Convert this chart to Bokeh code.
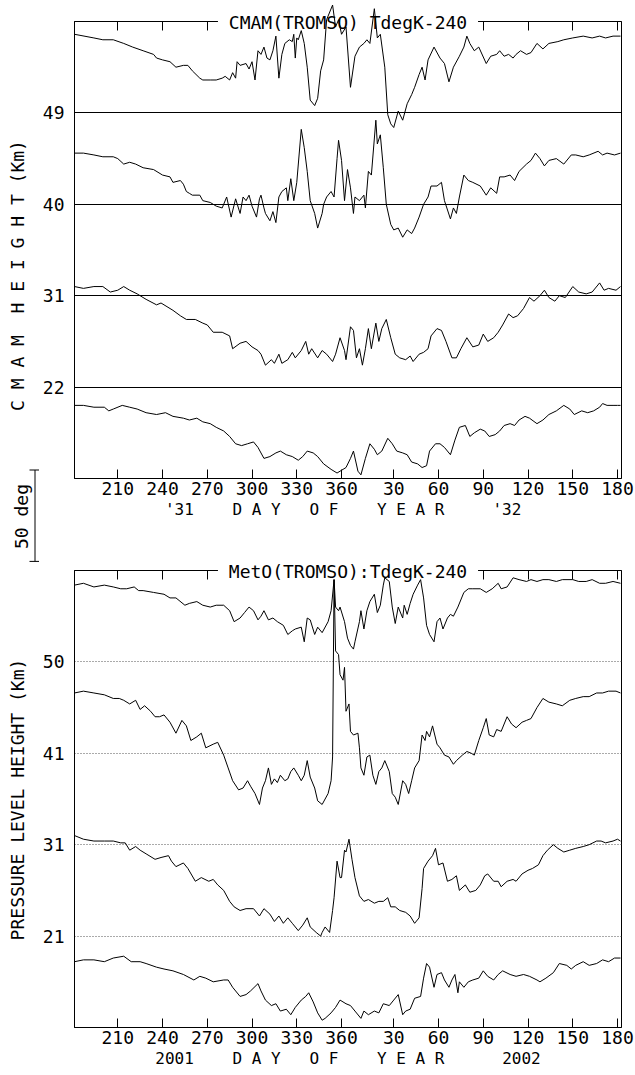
import math
import numpy as np
from bokeh.plotting import figure
from bokeh.models import Range1d, FixedTicker, LinearAxis
from bokeh.layouts import column, row
from bokeh.core.properties import value
from bokeh.embed import file_html
from bokeh.resources import INLINE

FONT = "DejaVu Sans Mono"
NB = "\u00a0"

# ---------------- data (days counted continuously from day 1 of first year; 395 = day 30 of next year)
x_ticks = [210, 240, 270, 300, 330, 360, 395, 425, 455, 485, 515, 545]
x_tick_labels = ["210", "240", "270", "300", "330", "360", "30", "60", "90", "120", "150", "180"]

cmam_levels = ["22", "31", "40", "49"]
meto_levels = ["21", "31", "41", "50"]

# CMAM, T-240 (K) at each level
cmam49_day = [181,194,200,207,214,220,227,234,236,240,245,249,254,257,260,265,267,272,276,280,282,285,287,289,290,292,296,298,300,302,304,306,308,310,312,314,316,318,320,322,325,327,328,329,330,331,333,335,337,339,342,344,346,348,350,354,356,358,360,363,366,369,372,375,377,379,382,384,386,389,391,393,395,398,401,404,407,409,412,414,416,418,422,426,429,432,435,439,442,444,446,449,452,457,460,464,466,469,472,475,477,480,484,487,491,495,499,505,509,515,522,528,533,537,542,547]
cmam49_t = [43,41,40,40,38,36,34,32,30,29,28,25,26,26,23,19,18,18,18,19,20,18,22,19,28,26,27,24,28,18,34,32,36,30,29,34,42,19,32,38,40,39,43,30,41,40,45,38,25,7,4,8,23,29,51,59,47,51,43,47,14,31,36,38,40,38,57,41,43,25,-1,-6,-8,1,-4,5,10,14,21,25,18,29,36,30,27,17,25,31,36,42,38,34,36,27,31,32,34,31,32,30,32,34,32,33,38,35,38,39,40,41,42,41,42,41,42,42]

cmam40_day = [181,187,194,200,207,210,214,218,222,227,234,240,245,247,252,254,256,258,260,265,267,272,276,280,283,286,289,292,294,296,298,300,303,305,306,308,309,312,314,316,318,320,323,324,326,328,330,333,335,337,339,342,344,347,348,350,353,355,357,358,360,362,364,366,368,369,372,375,376,378,380,383,384,386,388,390,393,395,398,401,404,407,409,412,415,418,420,424,427,429,433,435,437,439,442,445,448,453,457,460,464,466,469,473,476,479,484,487,490,493,496,499,504,509,514,517,522,526,532,535,538,543,547]
cmam40_t = [28,28,27,26,26,25,22,23,22,20,19,16,15,12,13,11,7,6,5,5,2,1,-1,-2,4,-7,3,-5,4,2,5,-1,-7,3,5,-2,-5,-9,-4,-10,4,7,9,2,14,2,12,41,31,18,2,-5,-13,-5,0,4,7,4,25,35,24,2,19,9,-5,4,2,5,-2,18,16,46,33,38,20,0,-11,-14,-13,-18,-14,-16,-13,-7,0,4,10,10,12,2,-8,-2,-5,4,16,13,12,10,5,9,6,15,15,16,13,18,22,24,28,25,21,24,25,22,27,27,26,27,29,27,28,27,28]

cmam31_day = [181,187,194,200,205,210,214,218,223,229,236,239,243,247,252,256,262,267,270,274,280,285,287,292,296,300,304,306,309,313,315,318,320,324,327,329,333,336,338,340,344,347,350,354,356,359,362,363,366,368,370,372,374,376,378,380,383,385,387,390,393,396,399,403,406,408,412,415,418,420,424,427,430,434,437,440,444,448,452,455,458,462,465,468,472,475,478,482,486,489,493,496,499,503,506,510,515,519,524,528,533,536,539,544,547]
cmam31_t = [5,4,5,5,2,3,5,3,1,-2,-5,-4,-6,-8,-11,-13,-13,-15,-16,-20,-20,-22,-29,-26,-25,-28,-30,-32,-38,-35,-37,-32,-37,-35,-31,-34,-30,-25,-32,-29,-34,-30,-32,-36,-32,-23,-30,-35,-17,-19,-34,-29,-38,-29,-18,-29,-15,-25,-18,-13,-23,-32,-34,-35,-33,-36,-32,-31,-29,-22,-18,-19,-25,-34,-34,-29,-23,-28,-27,-21,-25,-23,-20,-16,-10,-12,-11,-7,-1,-3,0,3,-1,-3,0,-1,5,2,1,2,7,3,4,3,5]

cmam22_day = [181,187,194,201,204,207,213,218,223,229,236,242,247,254,258,263,267,272,276,281,285,289,293,297,301,304,308,312,316,319,323,327,331,334,337,341,344,348,353,357,359,363,366,368,371,373,376,379,382,384,387,391,394,397,401,404,407,411,414,417,419,423,426,429,433,436,439,443,446,449,453,456,459,463,466,469,473,476,479,483,486,491,495,499,504,509,513,516,521,525,529,533,535,538,542,545,547]
cmam22_t = [-10,-10,-11,-11,-13,-12,-10,-11,-12,-14,-15,-14,-16,-17,-18,-17,-19,-20,-22,-24,-27,-31,-32,-31,-30,-33,-39,-38,-36,-35,-37,-38,-40,-38,-35,-36,-38,-42,-45,-47,-46,-44,-39,-35,-46,-48,-39,-31,-34,-37,-35,-28,-31,-35,-36,-37,-41,-42,-44,-43,-35,-31,-31,-33,-37,-29,-22,-21,-27,-25,-23,-24,-27,-26,-24,-21,-20,-21,-18,-16,-17,-20,-18,-15,-13,-10,-12,-15,-13,-14,-13,-11,-9,-10,-10,-10,-10]

# MetO, T-240 (K) at each level
meto50_day = [181,187,194,201,207,212,216,221,224,227,234,241,245,249,255,258,263,267,272,276,281,285,288,292,295,298,301,304,306,308,311,314,317,321,324,327,329,333,335,337,339,342,344,347,351,353,355,356,358,359,362,364,366,368,369,372,373,375,377,379,382,384,386,388,389,392,394,396,398,401,402,404,406,408,411,413,415,417,419,422,424,426,428,431,433,435,438,442,445,448,453,457,461,465,467,471,475,479,484,487,491,495,499,504,508,515,519,524,528,533,537,542,547]
meto50_t = [42,43,41,42,41,40,40,41,39,39,38,37,35,35,31,32,33,31,30,31,31,28,22,24,27,30,28,23,25,28,23,24,22,20,15,17,18,19,11,24,23,15,19,16,22,28,45,30,28,30,22,13,9,7,11,22,28,18,28,33,37,27,31,42,46,44,30,21,30,24,31,26,32,37,42,45,35,20,15,11,22,24,18,24,26,25,30,38,40,40,40,38,40,43,40,41,46,45,44,45,44,45,45,44,45,45,44,44,45,43,43,44,43]

meto41_day = [181,187,194,201,207,211,214,218,222,225,228,232,235,238,241,245,249,253,256,259,263,266,269,274,277,281,284,287,291,294,297,299,302,305,307,309,311,313,315,317,319,322,324,326,328,331,333,335,337,339,342,344,347,351,353,354,355,356,358,359,361,362,363,365,366,368,371,372,373,375,377,379,381,383,385,387,389,392,394,396,398,401,403,405,407,409,412,414,416,417,419,421,424,426,429,432,435,437,441,444,447,449,452,455,457,459,462,464,467,471,474,477,481,484,487,491,495,499,504,508,513,517,522,526,531,535,539,544,547]
meto41_t = [33,34,33,32,30,30,29,27,29,24,26,23,20,20,21,17,11,18,15,7,9,11,3,5,6,-1,-8,-15,-20,-19,-15,-18,-22,-28,-19,-15,-8,-17,-14,-16,-12,-15,-14,-10,-8,-12,-15,-12,-4,-13,-19,-26,-28,-22,-15,-2,95,56,54,43,40,47,23,27,12,10,11,3,-8,-12,-2,-1,-12,-17,-10,-8,-4,-10,-22,-24,-28,-15,-17,-22,-15,-8,-4,10,7,12,9,15,5,3,-1,-2,-6,-4,-1,1,0,-1,7,14,19,10,9,13,12,20,16,14,17,18,19,25,30,28,27,26,29,30,31,31,33,33,34,34,33]

meto31_day = [181,187,194,201,207,212,215,218,222,225,229,235,239,244,246,249,254,257,262,266,271,274,277,281,285,288,292,296,301,305,308,312,315,318,321,324,327,331,334,337,339,343,346,347,349,352,354,355,357,359,360,362,363,365,367,369,372,375,378,382,385,388,391,393,396,399,403,406,409,412,414,415,418,421,423,425,428,431,434,437,439,443,446,450,453,456,458,462,465,467,471,475,477,481,485,488,492,495,498,502,505,509,513,517,522,526,531,534,537,542,545,547]
meto31_t = [5,3,2,2,2,1,1,-3,-1,-3,-5,-8,-7,-6,-9,-12,-10,-13,-20,-18,-20,-19,-22,-25,-31,-34,-36,-35,-35,-39,-35,-38,-42,-39,-43,-40,-43,-47,-44,-40,-45,-48,-50,-48,-45,-48,-36,-29,-9,-18,-18,-3,-4,3,-8,-18,-28,-31,-30,-32,-31,-31,-29,-34,-34,-36,-37,-39,-43,-40,-24,-13,-9,-6,-2,-11,-10,-20,-19,-17,-25,-22,-26,-25,-22,-17,-16,-20,-20,-23,-20,-19,-20,-16,-14,-13,-11,-6,-3,0,-2,-4,-3,-2,-1,0,2,2,1,2,3,2]

meto21_day = [181,187,194,201,207,214,219,225,229,236,241,247,254,261,265,269,274,281,284,287,292,296,299,304,306,309,313,316,319,323,326,329,333,336,338,341,344,347,349,353,356,359,363,366,369,373,375,378,382,385,388,392,395,398,401,403,406,409,413,415,417,419,422,424,427,429,432,434,436,438,439,442,445,448,452,455,458,462,465,468,473,477,482,486,491,493,497,502,506,511,514,517,522,526,531,535,539,543,547]
meto21_t = [-14,-13,-13,-14,-12,-11,-14,-14,-15,-17,-18,-19,-21,-24,-22,-23,-25,-24,-24,-28,-33,-32,-30,-26,-30,-35,-38,-37,-41,-40,-43,-39,-35,-33,-31,-36,-42,-46,-45,-42,-39,-35,-37,-38,-41,-45,-41,-43,-41,-42,-37,-38,-35,-32,-43,-41,-40,-34,-33,-23,-15,-17,-28,-21,-20,-24,-28,-24,-21,-31,-25,-28,-25,-24,-23,-19,-22,-24,-21,-19,-21,-22,-21,-22,-24,-25,-23,-20,-15,-16,-18,-16,-14,-16,-15,-13,-14,-12,-12]

DEG_PER_BAND = 50.0  # the "50 deg" scale bar equals the spacing between levels

STRIP_W = 39
FRAME_H = 457


def make_panel(height, top_border, bottom_border, series, level_labels, dotted, title, xlabel):
    p = figure(width=635 - STRIP_W, height=height, output_backend="svg", toolbar_location=None,
               title=NB + title + NB, x_range=Range1d(181, 547.67), y_range=Range1d(0, 5),
               min_border_left=71 - STRIP_W, min_border_right=14,
               min_border_top=top_border, min_border_bottom=bottom_border)
    p.background_fill_color = "white"
    p.border_fill_color = "white"
    p.outline_line_color = "black"
    p.outline_line_alpha = 1
    p.outline_line_width = 1

    t = p.title
    t.align = "center"
    t.vertical_align = "bottom"
    t.text_font = FONT
    t.text_font_size = "18px"
    t.text_font_style = "normal"
    t.text_color = "black"
    t.background_fill_color = "white"
    t.background_fill_alpha = 1
    t.standoff = -22

    xa = p.xaxis[0]
    xa.ticker = FixedTicker(ticks=x_ticks)
    xa.major_label_overrides = {tk: lb for tk, lb in zip(x_ticks, x_tick_labels)}
    xa.major_tick_in = 9
    xa.major_tick_out = 0
    xa.minor_tick_line_color = None
    xa.major_tick_line_color = "black"
    xa.axis_line_color = "black"
    xa.major_label_standoff = 3
    xa.major_label_text_font = FONT
    xa.major_label_text_font_size = "18px"
    xa.major_label_text_color = "black"
    xa.axis_label = xlabel
    xa.axis_label_text_font = FONT
    xa.axis_label_text_font_size = "16px"
    xa.axis_label_text_font_style = "normal"
    xa.axis_label_text_color = "black"
    xa.axis_label_standoff = 2

    ya = p.yaxis[0]
    ya.ticker = FixedTicker(ticks=[1, 2, 3, 4])
    ya.major_label_overrides = {i + 1: lb for i, lb in enumerate(level_labels)}
    ya.major_tick_in = 0
    ya.major_tick_out = 0
    ya.minor_tick_line_color = None
    ya.axis_line_color = "black"
    ya.major_label_standoff = 10
    ya.major_label_text_font = FONT
    ya.major_label_text_font_size = "18px"
    ya.major_label_text_color = "black"

    top_axis = LinearAxis(ticker=FixedTicker(ticks=x_ticks), major_tick_in=9, major_tick_out=0,
                          major_label_text_font_size="1px", major_label_text_color=None,
                          major_label_standoff=0, minor_tick_line_color=None,
                          axis_line_color="black", major_tick_line_color="black")
    p.add_layout(top_axis, "above")

    p.xgrid.visible = False
    p.ygrid.grid_line_alpha = 1
    p.ygrid.grid_line_width = 1
    if dotted:
        p.ygrid.grid_line_color = "#555555"
        p.ygrid.grid_line_dash = "1 2"
    else:
        p.ygrid.grid_line_color = "black"

    for i, (d, tv) in enumerate(series):
        y = (i + 1) + np.array(tv, dtype=float) / DEG_PER_BAND
        p.line(d, y, line_color="black", line_width=1, level="overlay")
    return p


xlabel_top = "'31" + NB * 4 + "D A Y" + NB * 3 + "O F" + NB * 4 + "Y E A R" + NB * 5 + "'32" + NB
xlabel_bot = "2001" + NB * 4 + "D A Y" + NB * 3 + "O F" + NB * 4 + "Y E A R" + NB * 6 + "2002"

p1 = make_panel(545, 21, 67,
                [(cmam22_day, cmam22_t), (cmam31_day, cmam31_t),
                 (cmam40_day, cmam40_t), (cmam49_day, cmam49_t)],
                cmam_levels, False, "CMAM(TROMSO) TdegK-240", xlabel_top)
p2 = make_panel(530, 25, 48,
                [(meto21_day, meto21_t), (meto31_day, meto31_t),
                 (meto41_day, meto41_t), (meto50_day, meto50_t)],
                meto_levels, True, "MetO(TROMSO):TdegK-240", xlabel_bot)

# left strip: axis titles and the "50 deg" scale bar (coordinates: pixels from the bottom)
H = 1075
strip = figure(width=STRIP_W, height=H, output_backend="svg", toolbar_location=None, title=None,
               x_range=Range1d(0, STRIP_W), y_range=Range1d(0, H),
               x_axis_type=None, y_axis_type=None, min_border=0)
strip.outline_line_color = None
strip.background_fill_color = "white"
strip.border_fill_color = "white"

strip.text(x=[17, 17, 21], y=[H - 275, H - 799, H - 516],
           text=["C M A M" + NB * 2 + "H E I G H T (Km)", "PRESSURE LEVEL HEIGHT (Km)", "50 deg"],
           angle=math.pi / 2, text_align="center", text_baseline="middle",
           text_font=value(FONT), text_font_size=value("18px"), text_color="black")

band_px = FRAME_H / 5.0               # 50 deg on the traces
bar_top = H - 469.5
bar_bot = bar_top - band_px
bar_x = 34.5
strip.segment(x0=[bar_x, 29, 29], y0=[bar_top, bar_top, bar_bot],
              x1=[bar_x, 39, 39], y1=[bar_bot, bar_top, bar_bot],
              line_color="black", line_width=1)

layout = row(strip, column(p1, p2))
open("out.html", "w").write(file_html(layout, INLINE))
